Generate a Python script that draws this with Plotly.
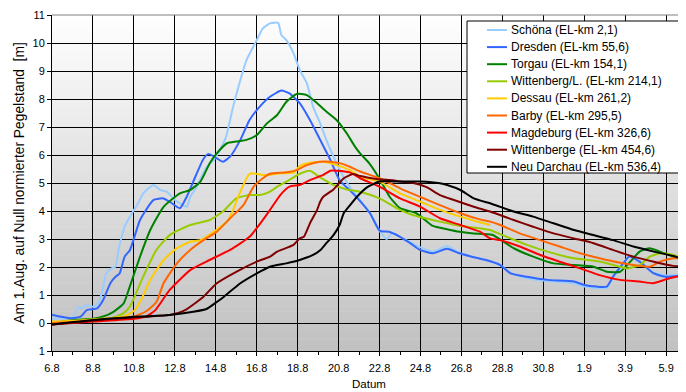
import pandas as pd
import plotly.graph_objects as go

BASE_DATE = "2002-08-06"

names = ["Schöna (EL-km 2,1)", "Dresden (EL-km 55,6)", "Torgau (EL-km 154,1)",
         "Wittenberg/L. (EL-km 214,1)", "Dessau (EL-km 261,2)", "Barby (EL-km 295,5)",
         "Magdeburg (EL-km 326,6)", "Wittenberge (EL-km 454,6)", "Neu Darchau (EL-km 536,4)"]
colors = ["#99ccff", "#3366ff", "#008000", "#99cc00", "#ffcc00", "#ff6600",
          "#ff0000", "#800000", "#000000"]

# days since 6.8.2002 and normalised gauge level [m]
schoena_d = [0, 0.4, 1.0, 1.3, 1.45, 1.7, 2.0, 2.25, 2.45, 2.65, 2.9, 3.1, 3.25, 3.55, 3.81, 4.2, 4.46, 4.95, 5.3, 5.6, 6.0, 6.25, 6.58, 6.75, 7.07, 7.56, 7.9, 8.2, 8.5, 8.85, 9.2, 9.5, 10.0, 10.3, 10.65, 11.05, 11.2, 11.45, 11.8, 12.1, 12.45, 12.75, 13.1, 13.4, 13.75, 14.1, 14.6, 15.05, 15.55, 16.0, 16.35, 16.6, 16.85, 17.3, 18.0, 18.6, 19.3, 19.9, 20.6, 21.2, 21.9, 22.4, 23.2, 24.2, 25.5, 26.0, 26.6, 27.1, 27.4, 27.9, 28.2, 28.7, 29.4, 30.0, 31.0]
schoena_v = [0.15, 0.17, 0.2, 0.58, 0.52, 0.64, 0.58, 0.70, 1.12, 1.77, 1.95, 2.01, 2.61, 3.44, 3.8, 4.27, 4.63, 4.93, 4.75, 4.69, 4.4, 4.27, 4.15, 4.5, 4.87, 5.58, 5.82, 6.18, 6.65, 7.73, 8.68, 9.39, 10.1, 10.52, 10.7, 10.72, 10.29, 10.1, 9.63, 9.04, 8.56, 7.73, 7.13, 6.54, 5.94, 5.4, 4.8, 4.39, 3.9, 3.3, 3.0, 3.2, 3.14, 2.96, 2.7, 2.55, 2.75, 2.5, 2.35, 2.25, 2.07, 1.8, 1.6, 1.5, 1.42, 1.3, 1.25, 1.25, 1.6, 2.1, 2.4, 2.2, 1.8, 1.7, 1.75]

dresden_d = [0, 0.4, 0.9, 1.4, 1.7, 2.2, 2.5, 2.85, 3.1, 3.3, 3.55, 3.81, 4.3, 4.95, 5.44, 5.75, 6.25, 6.58, 6.9, 7.39, 7.65, 8.05, 8.35, 8.7, 9.2, 9.65, 10.15, 10.65, 11.2, 11.6, 12.1, 12.6, 13.1, 13.6, 14.05, 14.6, 15.05, 15.55, 16.0, 16.5, 17.0, 17.5, 18.0, 18.6, 19.3, 19.9, 20.6, 21.2, 21.9, 22.4, 23.2, 24.2, 25.5, 26.0, 26.6, 27.1, 27.4, 27.9, 28.2, 28.7, 29.4, 30.0, 31.0]
dresden_v = [0.3, 0.23, 0.17, 0.23, 0.46, 0.52, 0.82, 1.42, 1.65, 1.77, 2.37, 2.61, 3.68, 4.39, 4.45, 4.33, 4.10, 4.51, 5.05, 5.85, 6.04, 5.88, 5.76, 5.94, 6.54, 7.25, 7.73, 8.08, 8.30, 8.2, 7.85, 7.25, 6.54, 5.82, 5.1, 4.7, 4.35, 3.9, 3.3, 3.25, 3.08, 2.85, 2.6, 2.49, 2.65, 2.49, 2.35, 2.25, 2.07, 1.77, 1.65, 1.54, 1.48, 1.36, 1.30, 1.30, 1.65, 2.13, 2.37, 2.19, 1.77, 1.65, 1.71]

torgau_d = [0, 1.0, 2.0, 2.5, 3.0, 3.5, 3.8, 4.3, 4.8, 5.45, 6.25, 6.75, 7.25, 7.7, 8.05, 8.55, 9.0, 9.5, 10.0, 10.5, 11.0, 11.45, 11.95, 12.45, 12.95, 13.4, 13.9, 14.4, 14.8, 15.05, 15.5, 16.0, 16.5, 17.0, 17.8, 18.6, 19.3, 19.9, 20.6, 21.5, 22.55, 23.5, 24.5, 25.5, 26.45, 27.1, 27.75, 28.25, 28.7, 29.2, 29.7, 30.35, 31.0]
torgau_v = [0.0, 0.1, 0.15, 0.23, 0.4, 0.70, 1.3, 2.37, 3.32, 4.15, 4.63, 4.75, 5.05, 5.7, 6.06, 6.42, 6.48, 6.54, 6.71, 7.13, 7.43, 7.9, 8.18, 8.14, 7.85, 7.55, 7.25, 6.77, 6.3, 6.06, 5.7, 5.15, 4.5, 4.1, 3.92, 3.47, 3.35, 3.26, 3.2, 3.15, 2.67, 2.37, 2.13, 2.07, 2.01, 1.83, 1.83, 2.19, 2.55, 2.67, 2.55, 2.37, 2.25]

wittenberg_d = [0, 1.5, 3.0, 3.5, 3.8, 4.45, 5.1, 5.75, 6.75, 7.7, 8.35, 9.0, 9.65, 10.15, 10.65, 11.0, 11.6, 12.1, 12.6, 13.1, 13.75, 14.4, 15.05, 16.0, 17.0, 17.65, 18.95, 19.9, 20.9, 21.4, 22.2, 23.2, 24.2, 25.5, 26.8, 28.1, 28.7, 29.2, 29.7, 30.35, 31.0]
wittenberg_v = [0.0, 0.05, 0.2, 0.35, 0.58, 1.65, 2.61, 3.14, 3.5, 3.68, 3.98, 4.45, 4.57, 4.57, 4.69, 4.87, 5.11, 5.33, 5.44, 5.2, 4.93, 4.77, 4.69, 4.45, 4.04, 3.85, 3.62, 3.47, 3.38, 3.32, 3.08, 2.79, 2.55, 2.31, 2.19, 1.95, 2.07, 2.37, 2.49, 2.43, 2.25]

dessau_d = [0, 1.5, 3.5, 4.05, 4.4, 4.8, 5.45, 6.1, 6.75, 7.25, 7.9, 8.55, 8.85, 9.1, 9.3, 9.6, 9.75, 10.3, 10.65, 11.15, 11.8, 12.1, 12.6, 13.25, 13.9, 14.55, 15.05, 16.0, 17.0, 18.0, 18.95, 19.95, 20.9, 21.4]
dessau_v = [0.05, 0.1, 0.23, 0.46, 0.9, 1.54, 2.25, 2.67, 2.9, 2.96, 3.26, 3.62, 4.04, 4.51, 4.85, 5.29, 5.35, 5.29, 5.29, 5.35, 5.37, 5.6, 5.72, 5.76, 5.64, 5.46, 5.23, 5.05, 4.63, 4.33, 4.04, 3.8, 3.6, 3.5]

barby_d = [0, 1.5, 3.0, 4.0, 4.6, 5.1, 5.45, 6.1, 6.75, 7.4, 8.05, 8.7, 9.35, 9.85, 10.3, 10.65, 11.45, 11.95, 12.45, 13.1, 13.6, 14.1, 14.55, 15.05, 16.0, 17.0, 18.0, 18.95, 19.95, 20.9, 21.4, 21.9, 22.85, 23.85, 24.8, 25.8, 26.75, 27.75, 28.7, 29.2, 29.7, 30.35, 31.0]
barby_v = [0.0, 0.05, 0.15, 0.23, 0.42, 0.75, 1.42, 2.13, 2.61, 2.96, 3.26, 3.74, 4.21, 4.87, 5.17, 5.33, 5.38, 5.46, 5.64, 5.76, 5.76, 5.7, 5.58, 5.41, 5.17, 4.81, 4.5, 4.21, 3.92, 3.7, 3.62, 3.5, 3.2, 2.96, 2.73, 2.49, 2.31, 2.15, 2.04, 2.01, 2.19, 2.31, 2.31]

magdeburg_d = [0, 2.0, 4.0, 4.6, 5.05, 5.75, 6.75, 7.7, 8.7, 9.65, 10.3, 10.65, 11.15, 11.6, 12.1, 12.6, 13.25, 13.6, 13.9, 14.55, 15.05, 16.0, 17.0, 18.0, 18.95, 19.95, 20.9, 21.4, 21.9, 22.85, 23.85, 24.8, 25.8, 26.75, 27.75, 28.7, 29.35, 30.0, 30.5, 31.0]
magdeburg_v = [-0.05, 0.05, 0.15, 0.23, 0.46, 1.18, 1.89, 2.25, 2.61, 3.08, 3.68, 4.04, 4.57, 4.87, 4.93, 5.1, 5.29, 5.44, 5.44, 5.38, 5.17, 4.87, 4.45, 4.15, 3.74, 3.5, 3.26, 3.02, 2.96, 2.73, 2.43, 2.19, 1.95, 1.71, 1.54, 1.48, 1.42, 1.56, 1.65, 1.68]

wittenberge_d = [0, 3.0, 5.75, 6.5, 7.4, 8.05, 9.0, 10.0, 10.65, 11.0, 11.8, 12.1, 12.3, 12.6, 12.95, 13.1, 13.25, 13.75, 14.25, 14.7, 15.05, 15.4, 16.0, 16.65, 17.0, 17.65, 18.3, 18.95, 19.6, 20.6, 21.4, 22.55, 23.5, 24.5, 25.5, 26.45, 27.4, 28.4, 29.4, 30.35, 31.0]
wittenberge_v = [-0.05, 0.15, 0.29, 0.46, 0.94, 1.42, 1.83, 2.19, 2.37, 2.55, 2.79, 3.02, 3.08, 3.56, 4.04, 4.33, 4.51, 4.77, 5.17, 5.32, 5.25, 5.2, 5.13, 5.1, 5.05, 5.0, 4.85, 4.57, 4.4, 4.15, 3.98, 3.68, 3.44, 3.2, 3.02, 2.85, 2.61, 2.37, 2.19, 2.04, 2.01]

darchau_d = [0, 2.0, 3.65, 5.75, 6.9, 7.55, 8.05, 8.4, 9.2, 10.0, 10.65, 11.45, 12.1, 12.75, 13.1, 13.4, 13.75, 14.05, 14.25, 14.55, 14.9, 15.4, 16.0, 17.0, 18.0, 18.95, 19.3, 19.95, 20.6, 21.5, 22.55, 23.5, 24.5, 25.5, 26.45, 27.4, 28.4, 29.4, 30.35, 31.0]
darchau_v = [-0.05, 0.11, 0.2, 0.29, 0.4, 0.5, 0.75, 0.94, 1.42, 1.77, 2.01, 2.13, 2.25, 2.43, 2.6, 2.85, 3.14, 3.5, 3.92, 4.2, 4.51, 4.85, 5.05, 5.05, 5.05, 4.99, 4.93, 4.75, 4.45, 4.25, 3.98, 3.8, 3.56, 3.32, 3.14, 2.96, 2.73, 2.55, 2.39, 2.25]

series_days = [schoena_d, dresden_d, torgau_d, wittenberg_d, dessau_d, barby_d,
               magdeburg_d, wittenberge_d, darchau_d]
series_vals = [schoena_v, dresden_v, torgau_v, wittenberg_v, dessau_v, barby_v,
               magdeburg_v, wittenberge_v, darchau_v]

y_tickvals = list(range(-1, 12))
y_ticktext = ["1"] + [str(i) for i in range(0, 12)]

# the page body adds an 8px margin, so the figure is sized to fit the window
OFF = 8
W, H = 686 - OFF, 392 - OFF
ML, MR, MT, MB = 44, 0, 7, 41
PW, PH = W - ML - MR, H - MT - MB


def px_x(x):
    return (x - OFF - ML) / PW


def px_y(y):
    return (H - MB - (y - OFF)) / PH


base = pd.Timestamp(BASE_DATE)
fig = go.Figure()

# background gradient (white at top to grey at bottom)
N = 60
for i in range(N):
    f0 = i / N
    f1 = (i + 1) / N
    fm = (f0 + f1) / 2
    c = int(round(192 + (255 - 192) * fm))
    fig.add_shape(type="rect", xref="paper", yref="paper", x0=0, x1=1, y0=f0, y1=f1 + 0.002,
                  fillcolor=f"rgb({c},{c},{c})", line=dict(width=0), layer="below")

for name, col, d, v in zip(names, colors, series_days, series_vals):
    x = base + pd.to_timedelta(d, unit="D")
    fig.add_trace(go.Scatter(x=x, y=v, mode="lines", name=name, showlegend=False,
                             line=dict(color=col, width=2, shape="spline", smoothing=0.5)))

fig.add_shape(type="line", xref="paper", yref="paper", x0=0, x1=1, y0=1, y1=1,
              line=dict(color="#808080", width=1))

# legend box drawn by hand (Excel-style compact legend)
fig.add_shape(type="rect", xref="paper", yref="paper",
              x0=px_x(467), x1=px_x(680), y0=px_y(173), y1=px_y(21),
              fillcolor="white", line=dict(color="black", width=1), layer="above")
for i, (name, col) in enumerate(zip(names, colors)):
    yy = 30 + 17.1 * i
    fig.add_shape(type="line", xref="paper", yref="paper",
                  x0=px_x(487), x1=px_x(507), y0=px_y(yy), y1=px_y(yy),
                  line=dict(color=col, width=2), layer="above")
    fig.add_annotation(xref="paper", yref="paper", x=px_x(509), y=px_y(yy),
                       xanchor="left", yanchor="middle", text=name, showarrow=False,
                       font=dict(size=12, color="black"))

font = "Liberation Sans, Arial, sans-serif"
fig.update_layout(
    width=W, height=H,
    margin=dict(l=ML, r=MR, t=MT, b=MB),
    paper_bgcolor="white", plot_bgcolor="white",
    font=dict(family=font, size=11, color="black"),
    showlegend=False,
    xaxis=dict(type="date", automargin=False,
               range=[base, base + pd.Timedelta(days=30.97)],
               tick0=base, dtick=2 * 86400000, tickformat="%-d.%-m",
               ticks="outside", ticklen=4, tickcolor="black", ticklabelstandoff=3,
               showgrid=True, gridcolor="black", gridwidth=1,
               showline=True, linecolor="black", linewidth=1,
               minor=dict(dtick=86400000, ticks="outside", ticklen=3, tickcolor="black", showgrid=False),
               title=dict(text="Datum", standoff=6, font=dict(size=11.5)),
               tickfont=dict(size=11)),
    yaxis=dict(range=[-1, 11], tickvals=y_tickvals, ticktext=y_ticktext, automargin=False,
               ticks="outside", ticklen=4, tickcolor="black",
               showgrid=True, gridcolor="black", gridwidth=1, zeroline=False,
               showline=True, linecolor="black", linewidth=1,
               title=dict(text="Am 1.Aug. auf Null normierter Pegelstand  [m]", standoff=4,
                          font=dict(size=13.8)),
               tickfont=dict(size=11)),
)

fig.write_html("out.html")
